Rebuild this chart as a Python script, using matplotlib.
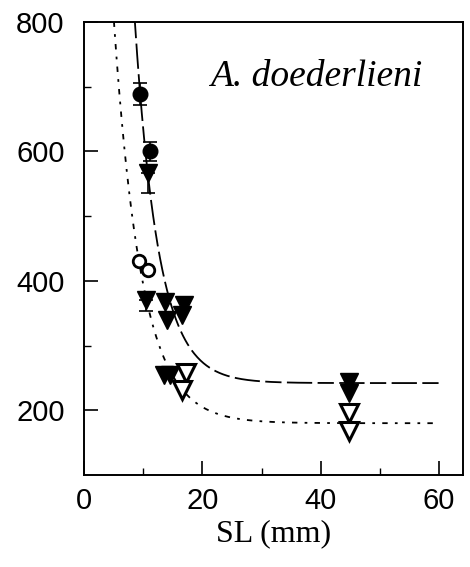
import matplotlib
matplotlib.use("Agg")
import matplotlib.pyplot as plt
import numpy as np

# filled circles with error bars
fc_sl = [9.4, 11.1]
fc_val = [688, 600]
fc_err = [17, 15]

# open circles
oc_sl = [9.3, 10.8]
oc_val = [431, 417]

# filled triangles
ft_sl = [10.8, 10.5, 13.7, 14.0, 16.9, 16.5, 13.6, 14.6, 44.8, 44.8]
ft_val = [567, 371, 368, 340, 363, 347, 255, 255, 244, 226]

# open triangles
ot_sl = [17.2, 16.6, 44.8, 44.8]
ot_val = [258, 232, 195, 168]

# downward error bars on two triangles
eb_sl = [10.8, 10.5]
eb_val = [567, 371]
eb_err = [32, 17]

# exponential decay fits: y = base + amp * exp(-k * SL)
fit_upper = dict(base=242, amp=4790, k=0.25, start=8.6)
fit_lower = dict(base=180, amp=1842, k=0.215, start=4.7)


def decay(p, x):
    return p["base"] + p["amp"] * np.exp(-p["k"] * x)


fig = plt.figure(figsize=(4.7, 5.67), dpi=100)
ax = fig.add_axes([0.1787, 0.1623, 0.806, 0.799])

xu = np.linspace(fit_upper["start"], 60, 400)
ax.plot(xu, decay(fit_upper, xu), color="black", lw=1.3,
        dashes=(9, 3, 14, 3))
xl = np.linspace(fit_lower["start"], 60, 400)
ax.plot(xl, decay(fit_lower, xl), color="black", lw=1.3,
        dashes=(3, 4, 1.5, 4))

ax.errorbar(fc_sl, fc_val, yerr=fc_err, fmt="o", color="black",
            ms=10.5, capsize=5, elinewidth=1.2, capthick=1.2)
ax.errorbar(eb_sl, eb_val, yerr=[eb_err, [0, 0]], fmt="none",
            ecolor="black", capsize=5, elinewidth=1.2, capthick=1.2)
ax.plot(oc_sl, oc_val, "o", mfc="white", mec="black", mew=2, ms=9)
ax.plot(ft_sl, ft_val, "v", color="black", ms=13)
ax.plot(ot_sl, ot_val, "v", mfc="white", mec="black", mew=2.2, ms=13)

ax.set_xlim(0, 64)
ax.set_ylim(100, 800)
ax.set_xticks([0, 20, 40, 60])
ax.set_xticks([10, 30, 50], minor=True)
ax.set_yticks([200, 400, 600, 800])
ax.set_yticks([300, 500, 700], minor=True)
ax.tick_params(which="major", direction="in", length=10, width=1.2,
               labelsize=21, right=False, top=False)
ax.tick_params(which="minor", direction="in", length=5, width=1.0)
ax.tick_params(axis="y", pad=14)
ax.tick_params(axis="x", pad=9)
for lab in ax.get_xticklabels() + ax.get_yticklabels():
    lab.set_family("Liberation Sans")
for s in ax.spines.values():
    s.set_linewidth(1.4)

ax.set_xlabel("SL (mm)", family="Liberation Serif", fontsize=23, labelpad=3)
ax.text(0.612, 0.879, "A. doederlieni", transform=ax.transAxes,
        family="Liberation Serif", style="italic", fontsize=27,
        ha="center", va="center")

plt.savefig("out.png", dpi=100)
plt.close()
